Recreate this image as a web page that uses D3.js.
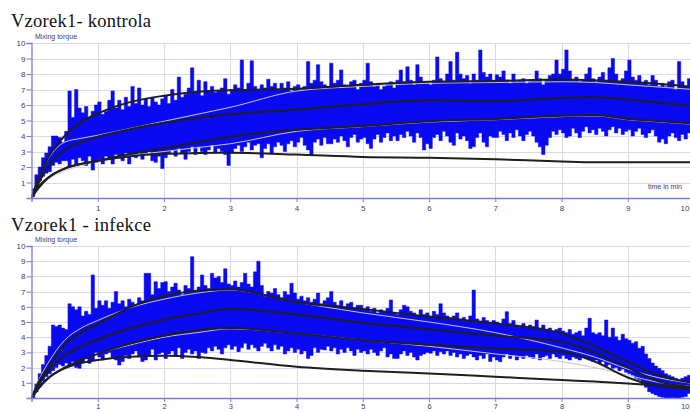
<!DOCTYPE html>
<html>
<head>
<meta charset="utf-8">
<script src="https://cdn.jsdelivr.net/npm/d3@7"></script>
<style>
  html, body { margin: 0; padding: 0; background: #fff; }
  svg { display: block; }
</style>
</head>
<body>
<svg id="chart" width="690" height="412"></svg>
<script>
// ---- data ------------------------------------------------------------------
const panelTitles = ["Vzorek1- kontrola", "Vzorek1 - infekce"];
const yAxisTitle = "Mixing torque";
const xAxisTitle = "time in min";
const yTicks = [1, 2, 3, 4, 5, 6, 7, 8, 9, 10];
const xTicks = [1, 2, 3, 4, 5, 6, 7, 8, 9, 10];

// torque trace, sampled every 0.05 min: upper and lower extent of each sample
const sampleStart = 0.025, sampleStep = 0.05;

const kontrolaHigh = [
  0.6, 1.5, 2.0, 2.6, 2.9, 3.3, 4.0, 4.0, 3.9, 3.6,
  4.3, 6.9, 5.2, 7.0, 5.8, 5.5, 5.9, 5.2, 5.6, 6.0,
  6.2, 5.4, 5.6, 6.3, 6.9, 5.8, 6.3, 5.7, 6.5, 5.9,
  7.2, 6.1, 7.1, 6.0, 6.4, 5.9, 6.5, 6.2, 6.0, 6.4,
  6.6, 6.1, 7.0, 6.3, 7.8, 6.5, 6.7, 7.1, 8.4, 6.8,
  7.6, 6.6, 7.5, 6.9, 7.2, 6.8, 6.9, 7.1, 7.7, 6.7,
  7.0, 7.3, 7.1, 8.9, 7.0, 7.4, 8.85, 7.2, 7.0, 7.3,
  7.1, 7.66, 7.2, 7.4, 7.0, 7.4, 7.1, 7.5, 6.9, 7.2,
  7.3, 7.0, 7.2, 8.8, 7.4, 7.6, 8.6, 7.5, 7.3, 7.1,
  8.7, 7.4, 7.6, 8.26, 7.3, 7.2, 7.5, 7.6, 7.0, 7.4,
  7.6, 8.7, 7.5, 7.2, 7.4, 7.0, 7.2, 7.3, 7.5, 7.1,
  7.6, 8.26, 7.5, 8.47, 7.6, 7.3, 8.6, 7.8, 7.5, 7.4,
  7.3, 7.6, 9.1, 7.7, 7.5, 8.0, 8.8, 7.6, 9.4, 8.0,
  7.7, 7.9, 7.4, 8.0, 7.6, 9.55, 8.1, 7.8, 8.0, 7.6,
  7.95, 7.8, 8.2, 7.6, 7.4, 8.0, 7.5, 7.6, 7.7, 7.4,
  7.5, 7.6, 8.2, 7.7, 7.3, 7.6, 7.9, 8.0, 8.9, 8.0,
  8.3, 9.55, 8.2, 7.6, 7.8, 7.5, 7.6, 8.0, 8.4, 7.7,
  7.5, 7.8, 8.1, 7.6, 8.4, 9.0, 8.0, 7.5, 7.7, 8.2,
  8.9, 7.8, 7.6, 7.9, 7.4, 7.6, 7.3, 7.9, 7.6, 7.2,
  7.4, 7.2, 7.5, 7.6, 7.0, 8.8, 7.5, 7.2, 7.7, 7.4
];
const kontrolaLow = [
  0.1, 0.7, 1.1, 1.4, 1.6, 1.7, 2.1, 2.3, 2.2, 2.4,
  2.4, 2.0, 2.5, 2.2, 2.6, 2.4, 2.1, 2.7, 1.8, 2.3,
  2.5, 2.2, 2.7, 2.5, 2.2, 2.8, 2.6, 2.4, 2.9, 2.2,
  2.8, 2.6, 2.9, 2.5, 2.8, 3.0, 2.4, 2.3, 2.7, 1.9,
  2.6, 2.9, 3.1, 2.7, 3.2, 2.9, 2.5, 3.0, 3.3, 2.8,
  3.3, 3.0, 2.8, 3.1, 3.4, 2.9, 3.2, 3.0, 2.8, 2.1,
  2.9, 3.2, 3.4, 3.0, 3.3, 3.6, 3.1, 3.4, 3.5, 2.6,
  3.2, 3.5, 2.9, 3.3, 3.6, 3.4, 3.0, 3.5, 3.7, 3.3,
  3.6, 3.9, 3.4, 3.1, 2.8, 3.6, 3.8, 3.4, 3.9, 3.5,
  3.5, 3.8, 3.6, 4.0, 3.7, 3.3, 3.9, 4.1, 3.6, 3.8,
  3.9, 3.5, 3.2, 3.8, 4.1, 3.6, 3.9, 4.2, 3.7, 4.0,
  3.7, 4.1, 3.9, 4.3, 4.0, 3.6, 4.2, 3.9, 3.1, 3.5,
  3.2, 3.9, 4.1, 3.7, 4.3, 4.0, 3.6, 3.4, 4.2, 3.8,
  4.0, 3.7, 3.2, 3.3, 3.9, 4.2, 3.6, 3.3, 4.0, 3.9,
  3.9, 4.3, 4.1, 3.7, 4.2, 3.9, 4.4, 4.0, 3.7, 4.1,
  4.3, 4.0, 3.6, 3.3, 2.8, 3.4, 3.9, 4.3, 4.1, 4.4,
  4.2, 3.9, 4.0, 4.5, 4.2, 3.9, 4.3, 4.6, 4.2, 4.4,
  4.1, 4.5, 4.3, 4.0, 4.4, 4.6, 4.2, 4.5, 4.1, 4.3,
  4.4, 4.0, 4.3, 4.5, 4.1, 3.9, 4.2, 4.4, 4.0, 3.6,
  3.8, 3.5, 4.0, 4.2, 3.9, 3.7, 4.1, 3.8, 4.2, 4.0
];
const infekceHigh = [
  0.3, 0.9, 1.6, 2.2, 2.8, 3.4, 4.8, 4.7, 4.8, 4.6,
  4.5, 6.2, 6.0, 5.8, 6.0, 5.4, 5.7, 5.5, 8.1, 5.9,
  6.4, 6.1, 6.4, 5.9, 6.3, 7.0, 6.2, 6.4, 6.0, 6.5,
  6.3, 6.1, 6.6, 6.4, 8.2, 8.2, 6.8, 7.65, 7.2, 7.6,
  7.65, 7.0, 7.3, 7.55, 7.1, 6.8, 7.4, 7.2, 9.3, 7.0,
  7.3, 8.1, 7.4, 7.2, 8.2, 7.9, 8.0, 7.6, 8.5, 7.5,
  7.4, 7.7, 7.3, 7.6, 8.2, 7.5, 7.3, 8.3, 9.0, 7.4,
  6.7, 7.0, 6.9, 7.2, 6.8, 6.6, 7.0, 6.8, 7.55, 6.9,
  6.5, 6.7, 6.4, 6.6, 6.3, 6.5, 6.9, 6.2, 6.4, 6.6,
  7.0, 6.3, 6.1, 6.4, 6.0, 6.2, 6.3, 5.9, 6.1, 6.1,
  5.8, 6.0, 5.7, 5.9, 5.6, 5.8, 5.7, 5.9, 6.45, 5.6,
  5.5, 5.8, 6.1, 6.0, 5.7, 5.6, 5.4, 5.8, 5.5, 5.6,
  5.4, 5.7, 5.5, 6.2, 5.6, 5.4, 5.3, 5.4, 5.6, 5.2,
  5.3, 5.1, 5.4, 7.1, 5.2, 5.0, 5.3, 5.1, 4.9, 5.1,
  5.0, 4.8, 5.2, 5.68, 4.9, 5.1, 4.8, 4.7, 4.9, 4.6,
  4.8, 4.7, 5.13, 4.6, 4.8, 4.5, 4.6, 4.4, 4.5, 4.6,
  4.4, 4.3, 4.5, 4.2, 4.3, 4.4, 4.1, 4.6, 5.24, 4.3,
  4.2, 4.3, 4.1, 5.13, 4.0, 4.6, 4.03, 3.8, 4.2, 3.9,
  3.8, 3.6, 3.7, 3.27, 3.4, 2.9, 2.6, 2.3, 2.1, 1.95,
  1.8, 1.6, 1.5, 1.4, 1.3, 1.2, 1.3, 1.4, 1.5, 1.6
];
const infekceLow = [
  0.0, 0.4, 0.8, 1.1, 1.4, 1.6, 1.8, 2.0, 2.2, 2.1,
  2.3, 2.17, 2.4, 2.0, 1.95, 2.3, 2.6, 2.28, 2.5, 3.0,
  2.7, 2.5, 2.9, 3.0, 2.6, 2.5, 2.17, 2.4, 2.8, 2.6,
  2.9, 3.1, 2.7, 2.4, 2.5, 2.8, 3.2, 2.5, 2.9, 3.0,
  2.6, 2.9, 3.1, 2.8, 3.3, 2.6, 3.0, 3.2, 2.9, 3.1,
  2.6, 3.0, 2.94, 3.3, 3.1, 3.4, 3.2, 2.9, 3.3, 3.5,
  3.2, 3.4, 3.05, 3.3, 3.6, 3.2, 3.5, 3.3, 3.1, 3.4,
  3.6, 3.3, 3.1, 3.5, 3.2, 3.4, 2.9, 3.1, 3.3, 3.0,
  3.2, 2.9, 3.1, 2.6, 2.8, 3.3, 3.0, 3.2, 3.16, 3.4,
  3.1, 3.3, 2.9, 3.2, 3.0, 3.3, 3.1, 2.8, 3.2, 3.0,
  3.1, 2.9, 3.2, 3.0, 2.8, 3.1, 3.3, 2.7, 2.9, 2.6,
  2.6, 2.9, 3.1, 2.8, 3.0, 2.7, 2.5, 2.8, 2.9, 3.0,
  2.94, 3.1, 2.8, 3.05, 2.9, 3.1, 2.8, 3.0, 2.7, 2.9,
  2.6, 2.8, 2.9, 2.7, 2.5, 2.8, 2.6, 2.9, 2.4, 2.7,
  2.5, 2.39, 2.7, 2.9, 2.6, 2.8, 2.5, 2.7, 2.6, 2.8,
  2.7, 2.6, 2.9, 2.5, 2.7, 2.8, 2.6, 2.9, 2.7, 2.6,
  2.8, 2.6, 2.5, 2.7, 2.6, 2.5, 2.7, 2.6, 2.5, 2.4,
  2.5, 2.3, 2.4, 2.1, 2.2, 1.95, 2.0, 1.8, 1.9, 1.7,
  1.6, 1.5, 1.3, 1.2, 0.9, 0.7, 0.41, 0.3, 0.2, 0.1,
  0.05, 0.0, 0.0, 0.02, 0.0, 0.0, 0.05, 0.1, 0.3, 0.4
];

// fitted curves, given at these times (min)
const curveTimes = [0, 0.1, 0.25, 0.5, 0.75, 1, 1.5, 2, 2.5, 3, 4, 5, 6, 7, 8, 8.5, 9, 9.5, 10];

const kontrolaUpper  = [0, 1.2, 2.6, 4.0, 4.9, 5.45, 6.2, 6.6, 6.85, 6.95, 7.05, 7.3, 7.5, 7.55, 7.65, 7.6, 7.5, 7.35, 7.15];
const kontrolaMiddle = [0, 0.9, 2.0, 3.1, 3.6, 3.95, 4.45, 4.85, 5.15, 5.4, 5.7, 6.05, 6.3, 6.25, 6.45, 6.5, 6.35, 6.15, 5.9];
const kontrolaLower  = [0, 0.6, 1.3, 1.9, 2.2, 2.4, 2.85, 3.2, 3.6, 3.95, 4.4, 4.65, 4.95, 5.1, 5.3, 5.35, 5.1, 4.95, 4.8];
const kontrolaBase   = [0, 0.7, 1.3, 1.9, 2.2, 2.4, 2.7, 2.85, 2.9, 2.92, 2.8, 2.65, 2.6, 2.5, 2.35, 2.3, 2.3, 2.3, 2.3];
const kontrolaFitHi  = [0, 1.2, 2.5, 3.6, 3.85, 4.05, 4.5, 4.95, 5.4, 5.85, 6.9, 7.2, 7.4, 7.45, 7.5, 7.45, 7.3, 7.15, 7.0];
const kontrolaFitLo  = [0, 0.6, 1.2, 1.75, 2.1, 2.4, 2.75, 3.0, 3.25, 3.5, 4.3, 4.6, 4.9, 5.05, 5.25, 5.3, 5.05, 4.9, 4.75];

const infekceUpper  = [0, 1.0, 2.0, 3.5, 4.3, 4.85, 6.0, 6.7, 7.05, 7.15, 6.3, 5.85, 5.35, 4.9, 4.25, 3.4, 2.4, 1.45, 1.0];
const infekceMiddle = [0, 0.8, 1.8, 2.8, 3.4, 3.85, 4.6, 5.15, 5.55, 5.85, 5.5, 4.95, 4.5, 4.1, 3.7, 3.0, 2.0, 1.05, 0.7];
const infekceLower  = [0, 0.6, 1.3, 2.0, 2.5, 2.9, 3.6, 4.1, 4.45, 4.6, 4.25, 3.8, 3.5, 3.25, 3.05, 2.4, 1.35, 0.75, 0.6];
const infekceBase   = [0, 0.6, 1.3, 1.95, 2.3, 2.5, 2.72, 2.78, 2.7, 2.5, 2.06, 1.8, 1.62, 1.4, 1.18, 1.08, 0.96, 0.8, 0.64];
const infekceFitHi  = [0, 1.1, 2.3, 3.8, 4.6, 5.1, 5.95, 6.5, 6.9, 7.1, 6.3, 5.6, 5.0, 4.3, 3.3, 2.7, 1.9, 1.3, 0.95];
const infekceFitLo  = [0, 0.6, 1.2, 2.0, 2.5, 2.9, 3.5, 4.0, 4.3, 4.55, 4.25, 3.8, 3.4, 2.9, 2.4, 2.0, 1.5, 1.0, 0.75];

// ---- drawing ---------------------------------------------------------------
const svg = d3.select("#chart");
const W = 690;
const axisColor = "#7b7bd0";
const gridColor = "#d9d9e6";
const labelColor = "#3b3b70";
const traceColor = "#0a0af2";

const x = d3.scaleLinear().domain([0, 10]).range([31.5, 694]);

const panels = [
  { title: panelTitles[0], titleY: 27, top: 43, bottom: 198,
    high: kontrolaHigh, low: kontrolaLow,
    fits: [kontrolaFitHi, kontrolaFitLo],
    bands: [kontrolaUpper, kontrolaMiddle, kontrolaLower, kontrolaBase],
    showXTitle: true },
  { title: panelTitles[1], titleY: 231, top: 246, bottom: 398,
    high: infekceHigh, low: infekceLow,
    fits: [infekceFitHi, infekceFitLo],
    bands: [infekceUpper, infekceMiddle, infekceLower, infekceBase],
    showXTitle: false }
];

panels.forEach((p, pi) => {
  const y = d3.scaleLinear().domain([0, 10]).range([p.bottom, p.top]);
  const g = svg.append("g");

  // title
  g.append("text")
    .attr("x", 11).attr("y", p.titleY)
    .attr("font-family", "'Liberation Serif', 'Times New Roman', serif")
    .attr("font-size", 18.5)
    .attr("textLength", 140).attr("lengthAdjust", "spacing")
    .attr("fill", "#111")
    .text(p.title);

  // grid
  g.append("g").selectAll("line.h").data(yTicks).join("line")
    .attr("x1", x(0)).attr("x2", W)
    .attr("y1", d => Math.round(y(d)) + 0.5).attr("y2", d => Math.round(y(d)) + 0.5)
    .attr("stroke", gridColor).attr("stroke-width", 1);
  g.append("g").selectAll("line.v").data(xTicks).join("line")
    .attr("x1", d => Math.round(x(d)) + 0.5).attr("x2", d => Math.round(x(d)) + 0.5)
    .attr("y1", p.top).attr("y2", p.bottom)
    .attr("stroke", gridColor).attr("stroke-width", 1);

  // clip to plot area
  const clipId = "clip" + pi;
  svg.append("clipPath").attr("id", clipId).append("rect")
    .attr("x", x(0)).attr("y", p.top - 2)
    .attr("width", W - x(0)).attr("height", p.bottom - p.top + 2);
  const plot = g.append("g").attr("clip-path", `url(#${clipId})`);

  // torque trace
  const samples = p.high.map((h, i) => ({ t: sampleStart + i * sampleStep, hi: h, lo: p.low[i] }));
  samples.unshift({ t: 0, hi: 0, lo: 0 });
  const area = d3.area()
    .x(d => x(d.t)).y0(d => y(d.lo)).y1(d => y(d.hi))
    .curve(d3.curveStep);
  plot.append("path").datum(samples)
    .attr("d", area)
    .attr("fill", traceColor)
    .attr("stroke", traceColor).attr("stroke-width", 0.5)
    .attr("stroke-linejoin", "miter");

  const line = vals => d3.line()
    .x((d, i) => x(curveTimes[i])).y(d => y(d))
    .curve(d3.curveMonotoneX)(vals);

  // thin fitted curves
  p.fits.forEach(vals => {
    plot.append("path").attr("d", line(vals))
      .attr("fill", "none").attr("stroke", "#c4c4c4").attr("stroke-width", 1);
  });
  // band curves
  p.bands.forEach(vals => {
    plot.append("path").attr("d", line(vals))
      .attr("fill", "none").attr("stroke", "#1e1e1e").attr("stroke-width", 2);
  });

  // y axis
  const yAxis = d3.axisLeft(y).tickValues(yTicks).tickSize(5).tickFormat(d3.format("d"));
  const ya = g.append("g").attr("transform", `translate(${x(0)},0)`).call(yAxis);
  ya.select(".domain").attr("stroke", axisColor).attr("stroke-width", 1.3);
  ya.selectAll(".tick line").attr("stroke", axisColor);
  ya.selectAll(".tick text").attr("fill", labelColor)
    .attr("font-family", "'Liberation Sans', Arial, sans-serif").attr("font-size", 8)
    .attr("x", -6);

  // x axis
  const xAxis = d3.axisBottom(x).tickValues(xTicks).tickSize(4).tickFormat(d3.format("d"));
  const xa = g.append("g").attr("transform", `translate(0,${p.bottom})`).call(xAxis);
  xa.select(".domain").attr("stroke", axisColor).attr("stroke-width", 1.3);
  xa.selectAll(".tick line").attr("stroke", axisColor);
  xa.selectAll(".tick text").attr("fill", labelColor)
    .attr("font-family", "'Liberation Sans', Arial, sans-serif").attr("font-size", 8)
    .attr("y", 7);
  // the last label sits at the right edge of the page: align it to its end
  xa.selectAll(".tick text").filter(d => d === 10)
    .attr("text-anchor", "end").attr("x", W - x(10) - 1);
  if (pi === 1) {
    xa.selectAll(".tick text").attr("y", 6).attr("font-size", 7.5);
  }

  // axis titles
  g.append("text").attr("x", 35).attr("y", p.top - 4)
    .attr("font-family", "'Liberation Sans', Arial, sans-serif").attr("font-size", 7)
    .attr("fill", labelColor).text(yAxisTitle);
  if (p.showXTitle) {
    g.append("text").attr("x", 648).attr("y", p.bottom - 9)
      .attr("font-family", "'Liberation Sans', Arial, sans-serif").attr("font-size", 7)
      .attr("fill", labelColor).text(xAxisTitle);
  }
});
</script>
</body>
</html>
